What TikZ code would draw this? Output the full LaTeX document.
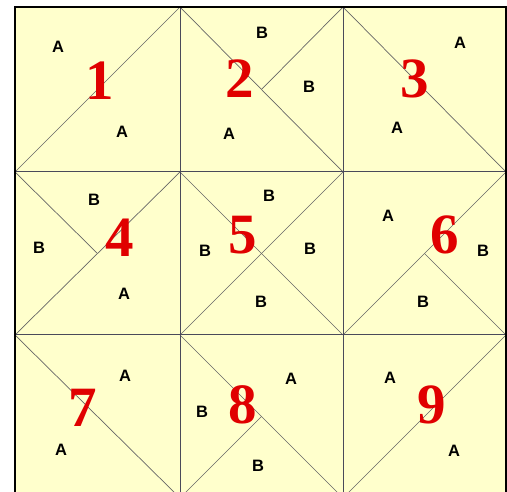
\documentclass[tikz,border=0pt]{standalone}
\usepackage{fontspec}
\usetikzlibrary{calc}
\setmainfont{Liberation Serif}
\newfontfamily\lblfont{Liberation Sans}
\definecolor{paper}{HTML}{FFFFCC}
\definecolor{gridc}{HTML}{4A4A5A}
\definecolor{diagc}{HTML}{666666}
\definecolor{numc}{HTML}{E00000}
\begin{document}
\begin{tikzpicture}[x=1pt,y=-1pt,
  gridline/.style={draw=gridc,line width=1pt},
  diagline/.style={draw=diagc,line width=0.7pt},
  piece/.style={font=\lblfont\bfseries\fontsize{16.5}{16.5}\selectfont,inner sep=0pt,text=black},
  numlbl/.style={font=\bfseries\fontsize{57}{57}\selectfont,inner sep=0pt,text=numc}]
\useasboundingbox (0,0) rectangle (507,492);
\clip (0,0) rectangle (507,492);
\fill[white] (0,0) rectangle (507,492);
% grid coordinates
\def\xa{15}\def\xb{180}\def\xc{343}\def\xd{506}
\def\ya{7}\def\yb{172}\def\yc{335}\def\yd{498}
\foreach \i/\x in {0/\xa,1/\xb,2/\xc,3/\xd}{
  \foreach \j/\y in {0/\ya,1/\yb,2/\yc,3/\yd}{
    \coordinate (g\i\j) at (\x,\y);
  }
}
\foreach \i in {0,1,2}{
  \foreach \j in {0,1,2}{
    \pgfmathtruncatemacro{\ii}{\i+1}
    \pgfmathtruncatemacro{\jj}{\j+1}
    \coordinate (c\i\j) at ($(g\i\j)!0.5!(g\ii\jj)$);
  }
}
\fill[paper] (g00) rectangle (g33);
% diagonals
\draw[diagline] (g01) -- (g10);
\draw[diagline] (g10) -- (g21);
\draw[diagline] (g20) -- (c10);
\draw[diagline] (g20) -- (g31);
\draw[diagline] (g02) -- (g11);
\draw[diagline] (g01) -- (c01);
\draw[diagline] (g11) -- (g22);
\draw[diagline] (g21) -- (g12);
\draw[diagline] (g22) -- (g31);
\draw[diagline] (c21) -- (g32);
\draw[diagline] (g02) -- (g13);
\draw[diagline] (g12) -- (g23);
\draw[diagline] (c12) -- (g13);
\draw[diagline] (g23) -- (g32);
% grid
\draw[gridline] (g10) -- (g13);
\draw[gridline] (g20) -- (g23);
\draw[gridline] (g01) -- (g31);
\draw[gridline] (g02) -- (g32);
\draw[black,line width=1.6pt] (g00) rectangle (g33);
% piece labels
\node[piece] (a1) at (58,47) {A};
\node[piece] (a2) at (122,132) {A};
\node[piece] (b1) at (262,33) {B};
\node[piece] (b2) at (309,87) {B};
\node[piece] (a3) at (229,134) {A};
\node[piece] (a4) at (460,43) {A};
\node[piece] (a5) at (397,128) {A};
\node[piece] (b3) at (94,200) {B};
\node[piece] (b4) at (39,248) {B};
\node[piece] (a6) at (124,294) {A};
\node[piece] (b5) at (269,196) {B};
\node[piece] (b6) at (205,251) {B};
\node[piece] (b7) at (310,249) {B};
\node[piece] (b8) at (261,302) {B};
\node[piece] (a7) at (388,216) {A};
\node[piece] (b9) at (483,251) {B};
\node[piece] (b10) at (423,302) {B};
\node[piece] (a8) at (125,376) {A};
\node[piece] (a9) at (61,450) {A};
\node[piece] (b11) at (202,412) {B};
\node[piece] (b12) at (258,466) {B};
\node[piece] (a10) at (291,379) {A};
\node[piece] (a11) at (390,378) {A};
\node[piece] (a12) at (454,451) {A};
% numbers
\node[numlbl] (n1) at (100,81) {1};
\node[numlbl] (n2) at (240,79) {2};
\node[numlbl] (n3) at (415,79) {3};
\node[numlbl] (n4) at (120,238) {4};
\node[numlbl] (n5) at (243,235) {5};
\node[numlbl] (n6) at (445,235) {6};
\node[numlbl] (n7) at (83,408) {7};
\node[numlbl] (n8) at (243,405) {8};
\node[numlbl] (n9) at (432,405) {9};
\end{tikzpicture}
\end{document}
